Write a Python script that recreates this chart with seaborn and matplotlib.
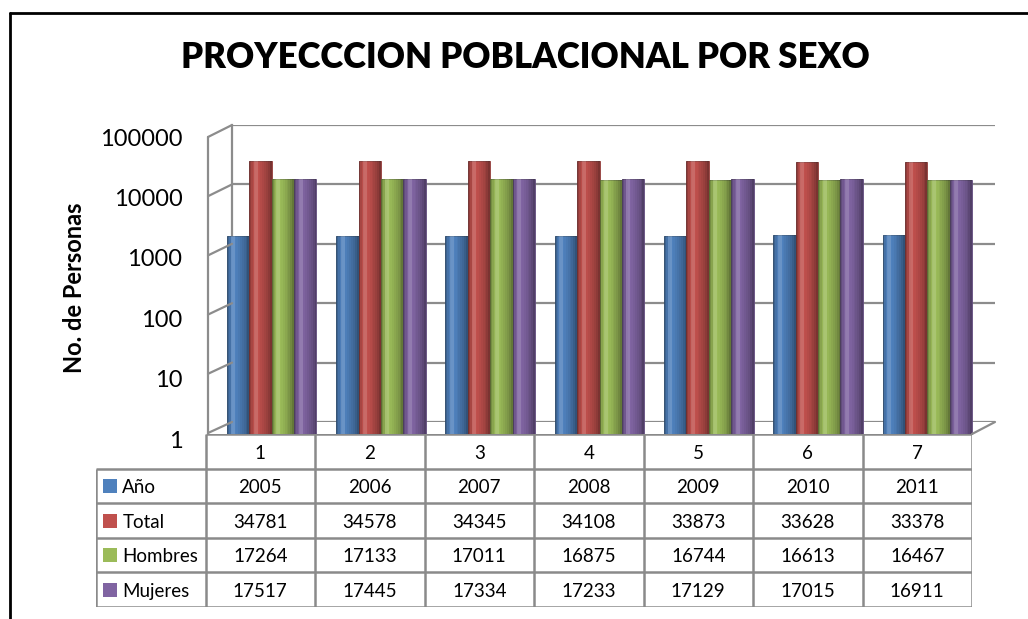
import matplotlib
matplotlib.use('Agg')
import matplotlib.pyplot as plt
from matplotlib.lines import Line2D
from matplotlib.transforms import ScaledTranslation
import matplotlib.colors as mcolors
import seaborn as sns
import pandas as pd

# Datos de la tabla
periodos = ['1', '2', '3', '4', '5', '6', '7']
anio = [2005, 2006, 2007, 2008, 2009, 2010, 2011]
total = [34781, 34578, 34345, 34108, 33873, 33628, 33378]
hombres = [17264, 17133, 17011, 16875, 16744, 16613, 16467]
mujeres = [17517, 17445, 17334, 17233, 17129, 17015, 16911]
series = ['Año', 'Total', 'Hombres', 'Mujeres']
colores = ['#4F81BD', '#C0504D', '#9BBB59', '#8064A2']
yticks = [1, 10, 100, 1000, 10000, 100000]

valores = {'Año': anio, 'Total': total, 'Hombres': hombres, 'Mujeres': mujeres}
df = pd.DataFrame([
    {'Periodo': p, 'Serie': s, 'Valor': valores[s][i]}
    for s in series for i, p in enumerate(periodos)
])

sns.set_style('white')
plt.rcParams['font.family'] = ['Lato', 'DejaVu Sans']
plt.rcParams['text.color'] = 'black'
plt.rcParams['ytick.color'] = 'black'

W, H = 1028, 619
fig = plt.figure(figsize=(W / 100, H / 100), dpi=100)


def rect(x0, y0, x1, y1):
    # pixeles (origen arriba-izquierda) -> fracciones de figura
    return [x0 / W, 1 - y1 / H, (x1 - x0) / W, (y1 - y0) / H]


def pt(x, y):
    return x / W, 1 - y / H


gris = '#8c8c8c'

# Pared del fondo con las lineas de la rejilla
wall = fig.add_axes(rect(232, 125, 995, 422))
wall.set_yscale('log')
wall.set_ylim(1, 100000)
wall.set_yticks(yticks)
wall.set_xticks([])
wall.tick_params(left=False, labelleft=False, which='both')
wall.yaxis.set_minor_locator(matplotlib.ticker.NullLocator())
wall.grid(axis='y', color=gris, lw=1.6)
for side in ['top', 'right', 'bottom']:
    wall.spines[side].set_visible(False)
wall.spines['left'].set_color(gris)
wall.spines['left'].set_linewidth(1.6)
wall.set_facecolor('none')

# Lineas de perspectiva (suelo y pared izquierda)
for k in range(6):
    xf, yf = zip(pt(208, 433 - k * 59.2), pt(232, 422 - k * 59.4))
    fig.add_artist(Line2D(xf, yf, transform=fig.transFigure, color=gris, lw=1.6))
xf, yf = zip(pt(208, 434), pt(208, 137))
fig.add_artist(Line2D(xf, yf, transform=fig.transFigure, color=gris, lw=1.6))
xf, yf = zip(pt(972, 434), pt(995, 422))
fig.add_artist(Line2D(xf, yf, transform=fig.transFigure, color=gris, lw=1.6))

# Barras
ax = fig.add_axes(rect(217, 133, 982, 435))
ax.set_facecolor('none')
ax.set_yscale('log')
sns.barplot(data=df, x='Periodo', y='Valor', hue='Serie', hue_order=series,
            palette=colores, width=0.82, gap=0, legend=False, ax=ax, saturation=1)
ax.set_ylim(1, 100000)
ax.set_xlim(-0.5, 6.5)
ax.set_yticks(yticks)
ax.set_yticklabels([str(t) for t in yticks])
ax.yaxis.set_minor_locator(matplotlib.ticker.NullLocator())
ax.tick_params(axis='y', length=0, pad=25, labelsize=17)
ax.tick_params(axis='x', length=0, labelbottom=False)
ax.set_xlabel('')
ax.set_ylabel('')
for lab in ax.get_yticklabels():
    lab.set_transform(lab.get_transform() + ScaledTranslation(0, -4 / 100, fig.dpi_scale_trans))
for s in ax.spines.values():
    s.set_visible(False)

# Sombreado tipo cilindro
barras = list(ax.patches)
n = 12
alfas = [0.24, 0.12, 0.03, 0.0, 0.0, 0.02, 0.06, 0.10, 0.15, 0.20, 0.27, 0.36]
for b in barras:
    x0, w, h = b.get_x(), b.get_width(), b.get_height()
    fc = b.get_facecolor()
    b.set_edgecolor(mcolors.to_rgba([c * 0.75 for c in fc[:3]]))
    b.set_linewidth(0.6)
    for s in range(n):
        ax.bar(x0 + s * w / n, h, width=w / n, align='edge', color='black',
               alpha=alfas[s], linewidth=0)
    ax.bar(x0 + 0.2 * w, h, width=0.18 * w, align='edge', color='white',
           alpha=0.15, linewidth=0)

fig.text(*pt(75, 288), 'No. de Personas', rotation=90,
         ha='center', va='center', fontsize=17, fontweight='bold')

fig.text(*pt(525, 57), 'PROYECCCION POBLACIONAL POR SEXO', ha='center',
         va='center', fontsize=25, fontweight='heavy')

# Tabla de datos
tax = fig.add_axes(rect(96, 434, 972, 607))
tax.set_xlim(0, 8)
tax.set_ylim(5, 0)
tax.axis('off')
lc = '#8a8a8a'
tax.hlines(0, 1, 8, color=lc, lw=1.8)
tax.hlines([1, 2, 3, 4, 5], 0, 8, color=lc, lw=1.8)
tax.vlines(0, 1, 5, color=lc, lw=1.8)
tax.vlines(range(1, 9), 0, 5, color=lc, lw=1.8)
for i, p in enumerate(periodos):
    tax.text(i + 1.5, 0.55, p, ha='center', va='center', fontsize=13.5)
for r, s in enumerate(series):
    tax.scatter([0.13], [r + 1.5], marker='s', s=90, color=colores[r], linewidths=0)
    tax.text(0.24, r + 1.55, s, ha='left', va='center', fontsize=13.5)
    for i, v in enumerate(valores[s]):
        tax.text(i + 1.5, r + 1.55, str(v), ha='center', va='center', fontsize=13.5)

# Marco exterior
for xs, ys in [((10, W), (13, 13)), ((10, 10), (13, H))]:
    xf, yf = zip(pt(xs[0], ys[0]), pt(xs[1], ys[1]))
    fig.add_artist(Line2D(xf, yf, transform=fig.transFigure, color='black', lw=2))

fig.savefig('out.png', dpi=100)
